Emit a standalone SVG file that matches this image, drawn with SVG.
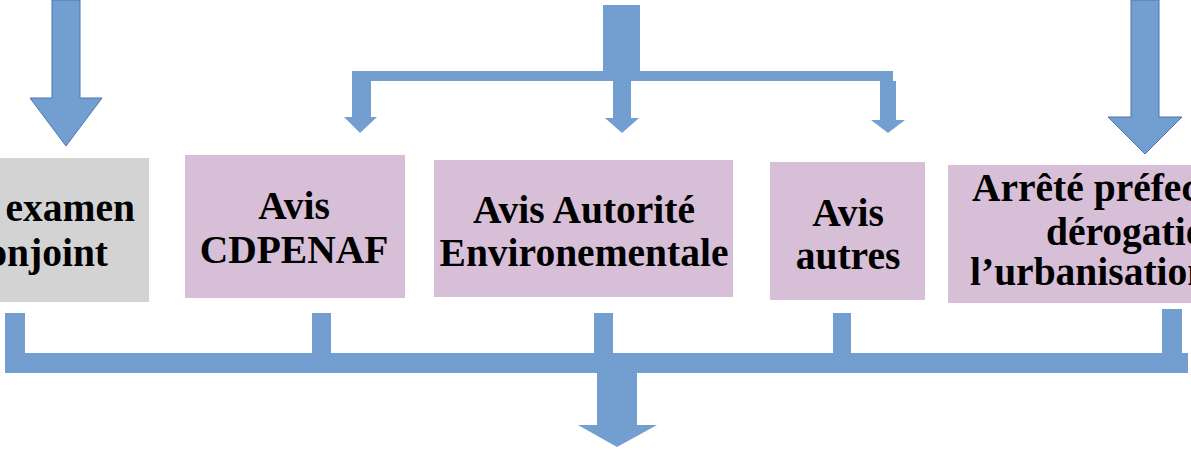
<svg xmlns="http://www.w3.org/2000/svg" width="1191" height="450" viewBox="0 0 1191 450">
<style>
.arrow{fill:#729fcf}
.big{fill:#729fcf;stroke:#4a76b0;stroke-width:1}
.pink{fill:#d8bfd8}
.gray{fill:#d3d3d3}
.t{font-family:"Liberation Serif","DejaVu Serif",serif;font-weight:bold;font-size:39.5px;fill:#000}
.c{text-anchor:middle}
</style>
<rect width="1191" height="450" fill="#fff"/>
<g id="connectors">
<path class="big" d="M52,0 H80 V98 H102 L66,146 L30,98 H52 Z"/>
<path class="big" d="M1131,0 H1159 V117 H1182 L1145,154 L1108,117 H1131 Z"/>
<path class="arrow" d="M603,5 H640 V71 H893 V81 H896 V120 H905 L888,133 L871,120 H880 V81 H631 V118 H639 L622,133 L605,118 H613 V81 H371 V117 H377 L360,133 L344,117 H352 V71 H603 Z"/>
<rect class="arrow" x="5" y="313" width="20" height="45"/>
<rect class="arrow" x="312" y="313" width="19" height="45"/>
<rect class="arrow" x="594" y="313" width="19" height="45"/>
<rect class="arrow" x="833" y="313" width="18" height="45"/>
<rect class="arrow" x="1162" y="309" width="20" height="49"/>
<path class="arrow" d="M5,353 H1188 V373 H637 V425 H657 L617,447 L578,425 H597 V373 H5 Z"/>
</g>
<g id="node-examen">
<rect class="gray" x="-10" y="158" width="159" height="144"/>
<text class="t" x="135" y="221" text-anchor="end">examen</text>
<text class="t" x="108" y="266" text-anchor="end">conjoint</text>
</g>
<g id="node-cdpenaf">
<rect class="pink" x="185" y="155" width="220" height="143"/>
<text class="t c" x="294" y="219">Avis</text>
<text class="t c" x="294" y="263">CDPENAF</text>
</g>
<g id="node-ae">
<rect class="pink" x="434" y="160" width="299" height="137"/>
<text class="t c" x="584" y="223">Avis Autorité</text>
<text class="t c" x="584" y="266">Environementale</text>
</g>
<g id="node-autres">
<rect class="pink" x="770" y="162" width="155" height="138"/>
<text class="t c" x="848" y="226">Avis</text>
<text class="t c" x="848" y="269">autres</text>
</g>
<g id="node-arrete">
<rect class="pink" x="948" y="165" width="260" height="138"/>
<text class="t" x="972" y="201">Arrêté préfectoral</text>
<text class="t" x="1046" y="245">dérogation</text>
<text class="t" x="970" y="285">l’urbanisation</text>
</g>
</svg>
